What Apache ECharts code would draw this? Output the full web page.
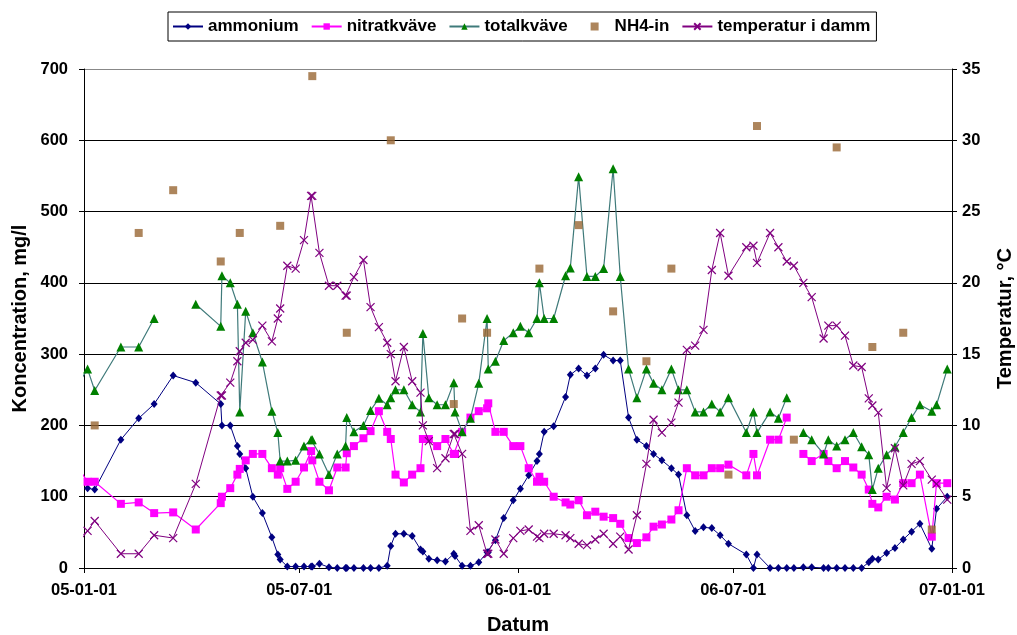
<!DOCTYPE html>
<html>
<head>
<meta charset="utf-8">
<script src="https://cdn.jsdelivr.net/npm/echarts@6/dist/echarts.min.js"></script>
<style>
html,body{margin:0;padding:0;background:#fff;}
#c{width:1017px;height:635px;}
</style>
</head>
<body>
<div id="c"></div>
<script>
const dates = [
'2004-12-27','2005-01-04','2005-01-10','2005-02-01','2005-02-16','2005-03-01','2005-03-17','2005-04-05','2005-04-26','2005-04-27',
'2005-05-04','2005-05-10','2005-05-12','2005-05-17','2005-05-23','2005-05-31','2005-06-08','2005-06-13','2005-06-15','2005-06-21',
'2005-06-28','2005-07-05','2005-07-11','2005-07-12','2005-07-18','2005-07-26','2005-08-02','2005-08-09','2005-08-10','2005-08-16',
'2005-08-24','2005-08-30','2005-09-06','2005-09-13','2005-09-16','2005-09-20','2005-09-27','2005-10-04','2005-10-11','2005-10-13',
'2005-10-18','2005-10-25','2005-11-01','2005-11-08','2005-11-09','2005-11-15','2005-11-22','2005-11-29','2005-12-06','2005-12-07',
'2005-12-13','2005-12-20','2005-12-28','2006-01-03','2006-01-10','2006-01-17','2006-01-19','2006-01-23','2006-01-31','2006-02-10',
'2006-02-14','2006-02-21','2006-02-28','2006-03-07','2006-03-14','2006-03-22','2006-03-28','2006-04-04','2006-04-11','2006-04-19',
'2006-04-25','2006-05-02','2006-05-10','2006-05-16','2006-05-23','2006-05-30','2006-06-06','2006-06-13','2006-06-20','2006-06-27',
'2006-07-12','2006-07-18','2006-07-21','2006-08-01','2006-08-08','2006-08-15','2006-08-21','2006-08-29','2006-09-05','2006-09-15',
'2006-09-19','2006-09-26','2006-10-03','2006-10-10','2006-10-17','2006-10-23','2006-10-26','2006-10-31','2006-11-07','2006-11-14',
'2006-11-21','2006-11-28','2006-12-05','2006-12-15','2006-12-19','2006-12-28'
];
const ammonium = [
null,112,110,180,210,230,270,260,230,200,
200,171,160,140,100,77,43,19,12,2,
2,2,2,2,6,1,0,0,0,0,
0,0,0,3,31,48,48,45,26,23,
13,11,9,20,17,3,3,8,22,22,
39,70,95,111,130,150,160,191,199,240,
271,280,270,280,299,291,291,211,180,171,
160,151,140,131,74,52,57,56,46,34,
19,0,19,0,0,0,0,1,1,0,
0,0,0,0,0,8,13,12,21,28,
40,51,62,27,83,100
];
const nitratkvave = [
141,121,121,90,92,77,78,54,91,100,
112,131,139,151,160,160,140,131,140,111,
121,141,164,151,121,109,141,141,161,171,
182,192,220,191,181,131,120,131,140,181,
181,171,181,160,160,191,211,220,224,231,
191,191,171,171,140,121,128,121,100,92,
89,95,74,79,72,70,62,42,35,43,
58,61,68,81,140,130,130,140,140,145,
130,160,130,180,180,211,null,160,150,160,
150,140,150,141,131,110,90,85,100,96,
119,119,131,44,119,119
];
const totalkvave = [
258,279,249,310,310,350,null,370,339,410,
400,370,219,360,330,289,220,190,150,150,
151,171,180,180,160,131,160,171,211,191,
200,221,238,229,239,250,250,229,219,329,
239,229,229,260,219,191,210,259,350,279,
290,319,330,339,330,350,400,350,350,410,
421,549,409,409,420,560,409,279,239,279,
259,250,279,250,250,219,219,230,219,239,
190,219,190,219,210,239,null,190,180,160,
180,171,180,190,170,159,110,140,159,170,
190,211,229,220,229,279
];
const nh4in = [
null,null,200,null,470,null,530,null,430,null,
null,null,470,null,null,null,null,null,480,null,
null,null,null,690,null,null,null,null,330,null,
null,null,null,null,600,null,null,null,null,null,
null,null,null,230,null,350,null,null,330,null,
null,null,null,null,null,null,420,null,null,null,
null,481,null,null,null,360,null,null,null,290,
null,null,420,null,null,null,null,null,null,131,
null,null,620,null,null,null,180,null,null,null,
null,590,null,null,null,null,310,null,null,null,
330,null,null,54,null,null
];
const temperatur = [
1.7,2.6,3.3,1.0,1.0,2.3,2.1,5.9,12.1,12.1,
13.0,14.5,15.2,15.8,16.0,17.0,15.9,17.5,18.2,21.2,
21.0,23.0,26.1,26.1,22.1,19.8,19.8,19.1,19.1,20.4,
21.6,18.3,16.9,15.8,15.0,13.1,15.5,13.1,12.3,10.0,
8.9,7.0,7.7,9.4,9.4,8.0,2.6,3.0,1.0,1.0,
2.0,1.0,2.1,2.6,2.7,2.2,2.1,2.4,2.4,2.3,
2.1,1.7,1.6,2.0,2.4,1.7,2.2,1.3,3.7,7.3,
10.4,9.5,10.2,11.6,15.3,15.6,16.7,20.9,23.5,20.5,
22.5,22.6,21.4,23.5,22.5,21.5,21.2,20.0,19.0,16.1,
17.0,17.0,16.3,14.2,14.1,11.9,11.4,10.9,5.6,8.4,
5.8,7.3,7.5,6.2,5.9,4.8
];
const xTicks = ['2005-01-01','2005-07-01','2006-01-01','2006-07-01','2007-01-01'];
const seriesNames = ['ammonium','nitratkväve','totalkväve','NH4-in','temperatur i damm'];

function ts(s){const p=s.split('-');return Date.UTC(+p[0],+p[1]-1,+p[2]);}
function pairs(vals, keepNull){
  const out=[];
  dates.forEach((d,i)=>{ if(vals[i]!==null||keepNull) out.push([ts(d), vals[i]]); });
  return out;
}
function fmt(v){const d=new Date(v);const p=n=>String(n).padStart(2,'0');return p(d.getUTCFullYear()%100)+'-'+p(d.getUTCMonth()+1)+'-'+p(d.getUTCDate());}

const FONT = "'Liberation Sans', Arial, sans-serif";
const lbl = {color:'#000', fontFamily:FONT, fontWeight:'bold', fontSize:16.5};
const ttl = {color:'#000', fontFamily:FONT, fontWeight:'bold', fontSize:20};
const tickVals = xTicks.map(ts);

const chart = echarts.init(document.getElementById('c'), null, {renderer:'canvas'});
chart.setOption({
  animation:false,
  backgroundColor:'#fff',
  textStyle:{fontFamily:FONT},
  legend:{
    left:168, top:12,
    orient:'horizontal',
    borderColor:'#000', borderWidth:1,
    padding:[6,6,6,4],
    itemGap:12, itemWidth:30, itemHeight:8,
    textStyle:{color:'#000', fontFamily:FONT, fontWeight:'bold', fontSize:17},
    data:[
      {name:seriesNames[0]},
      {name:seriesNames[1]},
      {name:seriesNames[2]},
      {name:seriesNames[3], icon:'path://M0,0L0,0M30,8L30,8M11,0L19,0L19,8L11,8Z'},
      {name:seriesNames[4]}
    ]
  },
  grid:{left:84, right:65, top:69, bottom:67, containLabel:false, outerBoundsMode:'none'},
  xAxis:{
    type:'value',
    min:ts('2005-01-01'), max:ts('2007-01-01'),
    name:'Datum', nameLocation:'middle', nameGap:47, nameMoveOverlap:false,
    nameTextStyle:ttl,
    axisLine:{show:true, onZero:false, lineStyle:{color:'#000', width:1}},
    axisTick:{show:true, length:5, customValues:tickVals, lineStyle:{color:'#000'}},
    axisLabel:Object.assign({customValues:tickVals, margin:14, formatter:function(v){return fmt(v);}}, lbl),
    splitLine:{show:false}
  },
  yAxis:[{
    type:'value', min:0, max:700, interval:100, position:'left',
    name:'Koncentration, mg/l', nameLocation:'middle', nameGap:54, nameRotate:90, nameMoveOverlap:false,
    nameTextStyle:ttl,
    axisLine:{show:true, lineStyle:{color:'#000', width:1}},
    axisTick:{show:true, length:5, lineStyle:{color:'#000'}},
    axisLabel:Object.assign({margin:16}, lbl),
    splitLine:{show:true, lineStyle:{color:['#000','#000','#000','#000','#000','#000','#000','#888'], width:1}}
  },{
    type:'value', min:0, max:35, interval:5, position:'right',
    name:'Temperatur, °C', nameLocation:'middle', nameGap:43, nameRotate:90, nameMoveOverlap:false,
    nameTextStyle:ttl,
    axisLine:{show:true, lineStyle:{color:'#000', width:1}},
    axisTick:{show:true, length:5, lineStyle:{color:'#000'}},
    axisLabel:Object.assign({margin:10}, lbl),
    splitLine:{show:false}
  }],
  series:[
    {name:seriesNames[0], type:'line', yAxisIndex:0, data:pairs(ammonium,false),
     symbol:'diamond', symbolSize:[7,8], showAllSymbol:true,
     lineStyle:{color:'#000080', width:1}, itemStyle:{color:'#000080'}, z:2},
    {name:seriesNames[1], type:'line', yAxisIndex:0, data:pairs(nitratkvave,true),
     symbol:'rect', symbolSize:8, showAllSymbol:true, connectNulls:false,
     lineStyle:{color:'#FF00FF', width:1.2}, itemStyle:{color:'#FF00FF'}, z:3},
    {name:seriesNames[2], type:'line', yAxisIndex:0, data:pairs(totalkvave,true),
     symbol:'triangle', symbolSize:9, showAllSymbol:true, connectNulls:false,
     lineStyle:{color:'#3f7a7a', width:1.2}, itemStyle:{color:'#008000'}, z:4},
    {name:seriesNames[3], type:'scatter', yAxisIndex:0, data:pairs(nh4in,false),
     symbol:'rect', symbolSize:8, itemStyle:{color:'#996633'}, z:5},
    {name:seriesNames[4], type:'line', yAxisIndex:1, data:pairs(temperatur,false),
     symbol:'path://M0,0L10,10M10,0L0,10', symbolSize:8, showAllSymbol:true,
     lineStyle:{color:'#800080', width:1}, itemStyle:{color:'#800080', borderColor:'#800080', borderWidth:1.2}, z:6}
  ]
});
</script>
</body>
</html>
